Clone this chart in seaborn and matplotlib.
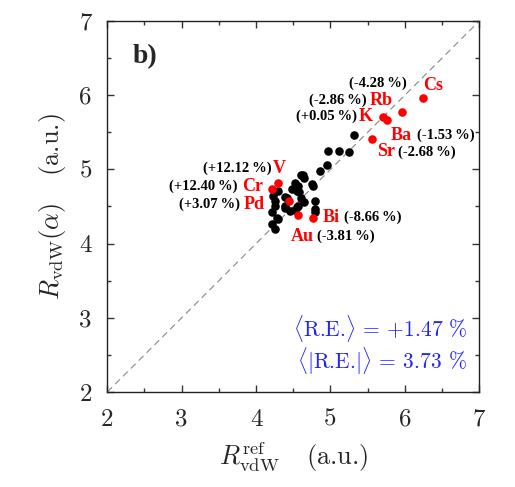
import numpy as np
import pandas as pd
import matplotlib
matplotlib.use("Agg")
import matplotlib.pyplot as plt
import seaborn as sns

# black points (reference vs. computed R_vdW, a.u.)
black_x = [5.31, 4.97, 5.12, 5.25, 4.86, 4.95, 4.63, 4.61, 4.65, 4.76, 4.52, 4.48,
           4.58, 4.39, 4.65, 4.79, 4.79, 4.79, 4.23, 4.26, 4.21, 4.39, 4.46, 4.55,
           4.30, 4.21, 4.25, 4.57, 4.55, 4.30, 4.41, 4.61, 4.25, 4.39, 4.52, 4.28,
           4.57, 4.75]
black_y = [5.46, 5.25, 5.25, 5.24, 4.98, 5.06, 4.92, 4.92, 4.89, 4.78, 4.81, 4.74,
           4.69, 4.63, 4.56, 4.58, 4.46, 4.42, 4.64, 4.57, 4.42, 4.48, 4.44, 4.49,
           4.33, 4.26, 4.19, 4.77, 4.71, 4.71, 4.61, 4.61, 4.50, 4.50, 4.45, 4.34,
           4.50, 4.80]

# highlighted elements
elements = ["Cs", "Rb", "K", "Ba", "Sr", "V", "Cr", "Pd", "Au", "Bi"]
red_x = [6.24, 5.96, 5.70, 5.76, 5.56, 4.29, 4.21, 4.44, 4.56, 4.76]
red_y = [5.96, 5.78, 5.71, 5.67, 5.41, 4.81, 4.73, 4.57, 4.38, 4.35]
rel_err = ["(-4.28\u2009%)", "(-2.86\u2009%)", "(+0.05\u2009%)", "(-1.53\u2009%)", "(-2.68\u2009%)",
           "(+12.12\u2009%)", "(+12.40\u2009%)", "(+3.07\u2009%)", "(-3.81\u2009%)", "(-8.66\u2009%)"]

# summary statistics
mean_re = "+1.47"
mean_abs_re = "3.73"

# label placement: (name offset, name ha, pct offset, pct ha) in pixels
label_pos = {
    "Cs": ((0, 13), "left", (-16, 15), "right"),
    "Rb": ((-9, 11), "right", (-35, 11), "right"),
    "K": ((-10, 0), "right", (-26, 0), "right"),
    "Ba": ((4, -16), "left", (30, -16), "left"),
    "Sr": ((5, -13), "left", (26, -13), "left"),
    "V": ((-5, 15), "left", (-6, 15), "right"),
    "Cr": ((-9, 3), "right", (-34, 3), "right"),
    "Pd": ((-24, -3), "right", (-49, -3), "right"),
    "Au": ((-7, -21), "left", (19, -21), "left"),
    "Bi": ((10, 0), "left", (31, 0), "left"),
}

sns.set_style("ticks")
plt.rcParams["mathtext.fontset"] = "cm"

df_black = pd.DataFrame({"x": black_x, "y": black_y})
df_red = pd.DataFrame({"x": red_x, "y": red_y, "el": elements})

fig = plt.figure(figsize=(5.15, 4.87), dpi=100)
ax = fig.add_axes([0.2083, 0.1951, 0.7223, 0.7618])

ax.plot([2, 7], [2, 7], ls=(0, (6, 4)), color="#888888", lw=0.8, zorder=1)
sns.scatterplot(data=df_black, x="x", y="y", color="black", s=38, linewidth=0, ax=ax, zorder=3)
sns.scatterplot(data=df_red, x="x", y="y", color="#ff0000", s=38, linewidth=0, ax=ax, zorder=4)

serif = ["Liberation Serif", "DejaVu Serif"]
for el, x, y, pct in zip(elements, red_x, red_y, rel_err):
    (nd, nha, pd_, pha) = label_pos[el]
    ax.annotate(el, (x, y), xytext=nd, textcoords="offset pixels", ha=nha, va="center",
                color="red", fontsize=13, fontweight="bold", family=serif)
    ax.annotate(pct, (x, y), xytext=pd_, textcoords="offset pixels", ha=pha, va="center",
                color="black", fontsize=10.5, fontweight="bold", family=serif)

ax.text(0.067, 0.905, "b)", transform=ax.transAxes, fontsize=20, fontweight="bold",
        family=serif, va="center", ha="left")
stats_txt = (r"$\langle$R.E.$\rangle$ = " + mean_re + " %\n"
             + r"$\langle|$R.E.$|\rangle$ = " + mean_abs_re + " % ")
ax.text(0.97, 0.127, stats_txt, transform=ax.transAxes, color="#2222ff", fontsize=15.5,
        ha="right", va="center", multialignment="right", linespacing=1.05, family="cmr10")

ax.set_xlim(2, 7)
ax.set_ylim(2, 7)
ax.set_xticks([2, 3, 4, 5, 6, 7])
ax.set_yticks([2, 3, 4, 5, 6, 7])
ax.set_xticks(np.arange(2.5, 7, 1), minor=True)
ax.set_yticks(np.arange(2.5, 7, 1), minor=True)
ax.tick_params(which="both", direction="in", top=True, right=True, width=1, color="#333333")
ax.tick_params(which="major", length=5, labelsize=18)
ax.tick_params(axis="x", which="major", pad=12)
ax.tick_params(axis="y", which="major", pad=11)
ax.tick_params(which="minor", length=3)
for lab in ax.get_xticklabels() + ax.get_yticklabels():
    lab.set_family("cmr10")
for sp in ax.spines.values():
    sp.set_linewidth(1.0)
    sp.set_color("#222222")

ax.set_xlabel(r"$R^{\rm ref}_{\rm vdW}$   (a.u.)", fontsize=19, labelpad=6, family="cmr10")
ax.set_ylabel(r"$R_{\rm vdW}(\alpha)$   (a.u.)", fontsize=19, labelpad=8, family="cmr10")

fig.savefig("out.png", dpi=100)
